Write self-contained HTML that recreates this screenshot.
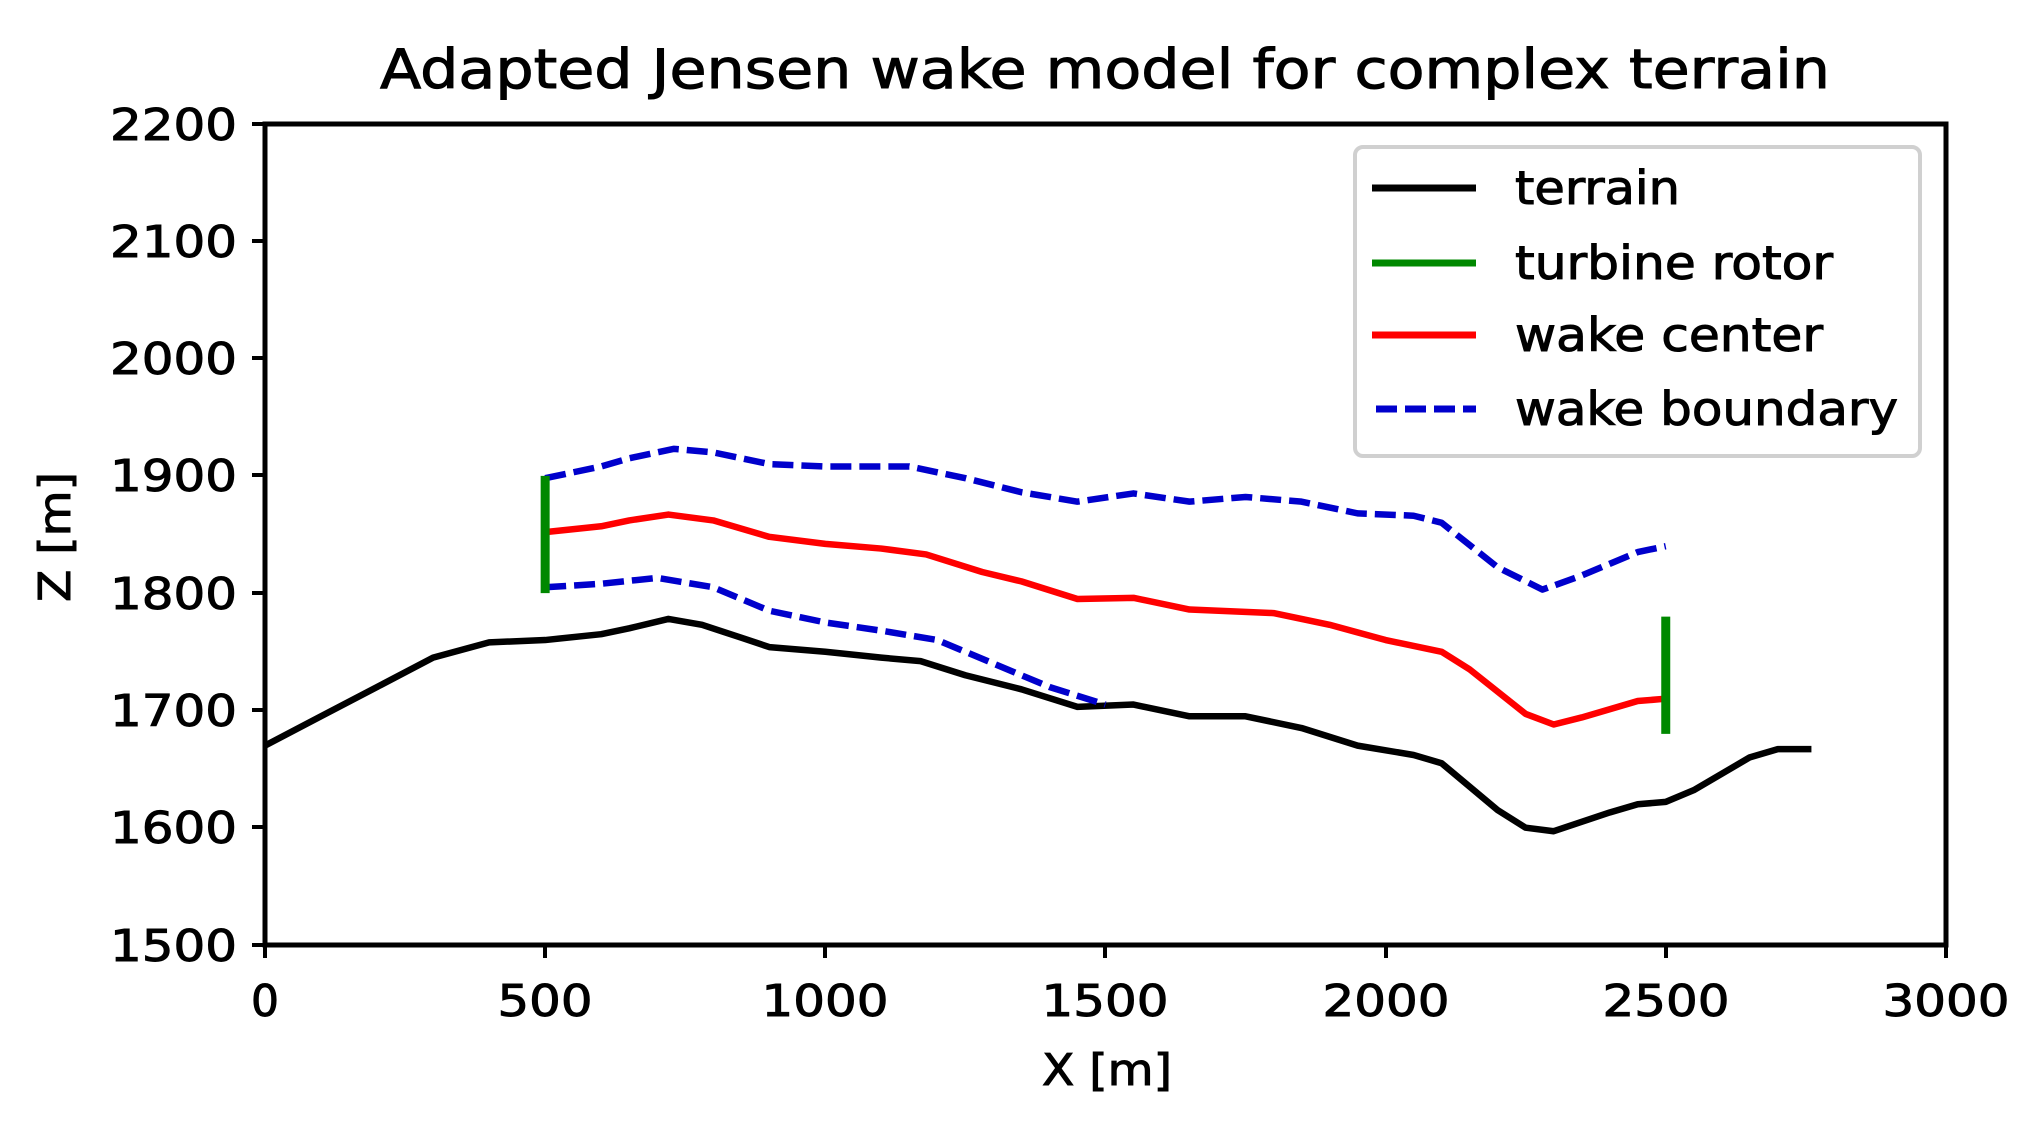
<!DOCTYPE html>
<html><head><meta charset="utf-8"><style>html,body{margin:0;padding:0;background:#fff}svg{display:block}</style></head>
<body>
<svg width="2030" height="1131" viewBox="0 0 2030 1131" xmlns="http://www.w3.org/2000/svg" font-family="'DejaVu Sans','Liberation Sans',sans-serif" fill="#000">
<g stroke="#000" stroke-width="1">
<text x="380" y="88" font-size="54" textLength="1450" lengthAdjust="spacingAndGlyphs">Adapted Jensen wake model for complex terrain</text>
</g>
<g transform="translate(265,945) scale(0.5603,-1.1729) translate(0,-1500)" fill="none" stroke-linejoin="round" stroke-linecap="butt">
<polyline vector-effect="non-scaling-stroke" stroke="#000" stroke-width="6.5" points="0,1670 100,1695 200,1720 300,1745 400,1758 500,1760 600,1765 650,1770 720,1778 780,1773 850,1762 900,1754 1000,1750 1100,1745 1170,1742 1250,1730 1350,1718 1450,1703 1550,1705 1650,1695 1750,1695 1850,1685 1950,1670 2050,1662 2100,1655 2200,1615 2250,1600 2300,1597 2400,1613 2450,1620 2500,1622 2550,1632 2650,1660 2700,1667 2760,1667"/>
<polyline vector-effect="non-scaling-stroke" stroke="#f00" stroke-width="6.5" points="500,1852 600,1857 650,1862 720,1867 800,1862 900,1848 1000,1842 1100,1838 1180,1833 1280,1818 1350,1810 1450,1795 1550,1796 1650,1786 1800,1783 1900,1773 2000,1760 2100,1750 2150,1735 2250,1697 2300,1688 2350,1694 2450,1708 2500,1710"/>
<polyline vector-effect="non-scaling-stroke" stroke="#00c" stroke-width="6.5" stroke-dasharray="21,8" points="500,1898 600,1908 650,1915 730,1923 800,1920 900,1910 1000,1908 1150,1908 1250,1898 1350,1886 1450,1878 1550,1885 1650,1878 1750,1882 1850,1878 1950,1868 2050,1866 2100,1860 2200,1822 2280,1803 2350,1815 2450,1835 2500,1840"/>
<polyline vector-effect="non-scaling-stroke" stroke="#00c" stroke-width="6.5" stroke-dasharray="21,8" points="500,1805 600,1808 700,1813 800,1805 900,1785 1000,1775 1100,1768 1200,1760 1300,1740 1400,1720 1500,1705"/>
<line vector-effect="non-scaling-stroke" stroke="#080" stroke-width="9" x1="500" y1="1800" x2="500" y2="1900"/>
<line vector-effect="non-scaling-stroke" stroke="#080" stroke-width="9" x1="2500" y1="1680" x2="2500" y2="1780"/>
</g>
<rect x="265" y="124" width="1681" height="821" fill="none" stroke="#000" stroke-width="5"/>
<g stroke="#000" stroke-width="4">
<line x1="265" y1="945" x2="265" y2="958"/><line x1="545" y1="945" x2="545" y2="958"/><line x1="825" y1="945" x2="825" y2="958"/><line x1="1105" y1="945" x2="1105" y2="958"/><line x1="1386" y1="945" x2="1386" y2="958"/><line x1="1666" y1="945" x2="1666" y2="958"/><line x1="1946" y1="945" x2="1946" y2="958"/>
<line x1="252" y1="124" x2="265" y2="124"/><line x1="252" y1="241" x2="265" y2="241"/><line x1="252" y1="358" x2="265" y2="358"/><line x1="252" y1="475" x2="265" y2="475"/><line x1="252" y1="593" x2="265" y2="593"/><line x1="252" y1="710" x2="265" y2="710"/><line x1="252" y1="827" x2="265" y2="827"/><line x1="252" y1="945" x2="265" y2="945"/>
</g>
<g font-size="44" text-anchor="middle" stroke="#000" stroke-width="1">
<text x="265" y="1016">0</text>
<text x="545" y="1016" textLength="95" lengthAdjust="spacingAndGlyphs">500</text>
<text x="825" y="1016" textLength="127" lengthAdjust="spacingAndGlyphs">1000</text>
<text x="1105" y="1016" textLength="127" lengthAdjust="spacingAndGlyphs">1500</text>
<text x="1386" y="1016" textLength="127" lengthAdjust="spacingAndGlyphs">2000</text>
<text x="1666" y="1016" textLength="127" lengthAdjust="spacingAndGlyphs">2500</text>
<text x="1946" y="1016" textLength="127" lengthAdjust="spacingAndGlyphs">3000</text>
<text x="1107" y="1085" textLength="130" lengthAdjust="spacingAndGlyphs">X [m]</text>
</g>
<g font-size="44" stroke="#000" stroke-width="1">
<text x="110" y="140" textLength="127" lengthAdjust="spacingAndGlyphs">2200</text>
<text x="110" y="257" textLength="127" lengthAdjust="spacingAndGlyphs">2100</text>
<text x="110" y="374" textLength="127" lengthAdjust="spacingAndGlyphs">2000</text>
<text x="110" y="491" textLength="127" lengthAdjust="spacingAndGlyphs">1900</text>
<text x="110" y="609" textLength="127" lengthAdjust="spacingAndGlyphs">1800</text>
<text x="110" y="726" textLength="127" lengthAdjust="spacingAndGlyphs">1700</text>
<text x="110" y="843" textLength="127" lengthAdjust="spacingAndGlyphs">1600</text>
<text x="110" y="961" textLength="127" lengthAdjust="spacingAndGlyphs">1500</text>
<text transform="translate(70,537) rotate(-90)" text-anchor="middle" textLength="130" lengthAdjust="spacingAndGlyphs">Z [m]</text>
</g>
<rect x="1355" y="147" width="565" height="309" rx="8" fill="#fff" stroke="#d0d0d0" stroke-width="4"/>
<g stroke-width="7">
<line x1="1372" y1="188" x2="1476" y2="188" stroke="#000"/>
<line x1="1372" y1="263" x2="1476" y2="263" stroke="#080"/>
<line x1="1372" y1="335" x2="1476" y2="335" stroke="#f00"/>
<line x1="1376" y1="409" x2="1476" y2="409" stroke="#00c" stroke-dasharray="21,8"/>
</g>
<g font-size="46" stroke="#000" stroke-width="1">
<text x="1515" y="204" textLength="165" lengthAdjust="spacingAndGlyphs">terrain</text>
<text x="1515" y="279" textLength="318" lengthAdjust="spacingAndGlyphs">turbine rotor</text>
<text x="1515" y="351" textLength="308" lengthAdjust="spacingAndGlyphs">wake center</text>
<text x="1515" y="425" textLength="383" lengthAdjust="spacingAndGlyphs">wake boundary</text>
</g>
</svg>
</body></html>
